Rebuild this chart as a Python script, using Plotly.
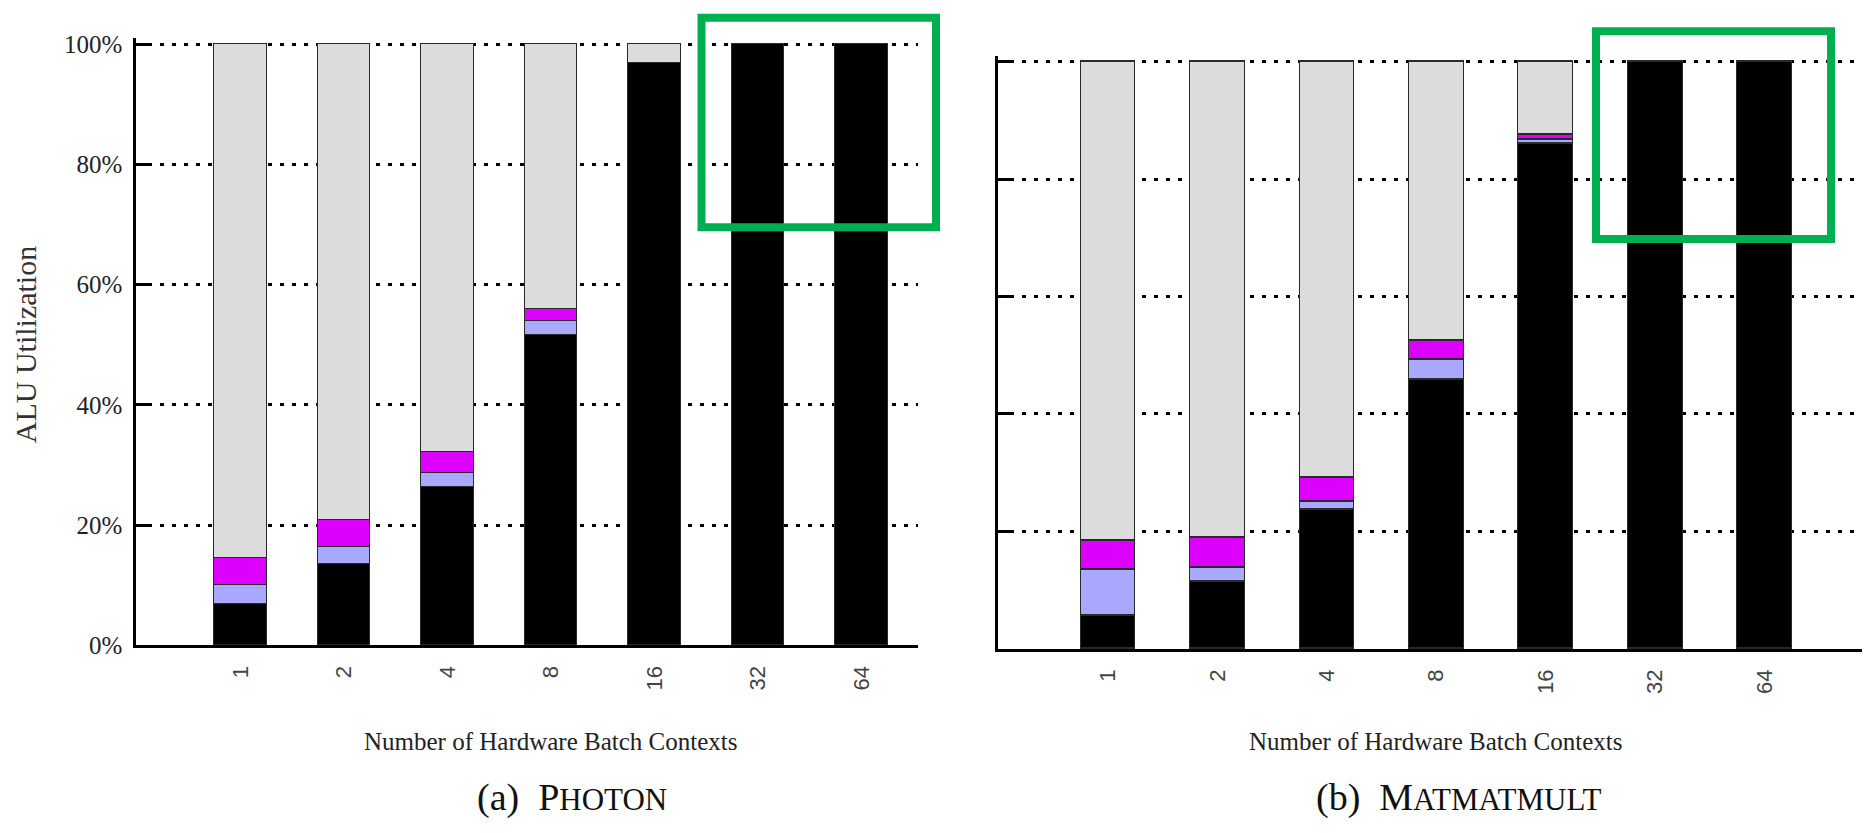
import plotly.graph_objects as go

# ---------------- data ----------------
categories = ["1", "2", "4", "8", "16", "32", "64"]

photon_black   = [6.9, 13.5, 26.4, 51.7, 96.8, 100, 100]
photon_blue    = [3.2, 2.8, 2.3, 2.3, 0, 0, 0]
photon_magenta = [4.5, 4.5, 3.5, 2.0, 0, 0, 0]
photon_gray    = [85.4, 79.2, 67.8, 44.0, 3.2, 0, 0]

matmat_black   = [5.7, 11.5, 23.7, 45.9, 86.0, 100, 100]
matmat_blue    = [7.8, 2.4, 1.3, 3.3, 0.7, 0, 0]
matmat_magenta = [4.9, 5.1, 4.2, 3.2, 0.8, 0, 0]
matmat_gray    = [81.6, 81.0, 70.8, 47.6, 12.5, 0, 0]

ytick_vals = [0, 20, 40, 60, 80, 100]
ytick_text = ["0%", "20%", "40%", "60%", "80%", "100%"]

y_title = "ALU Utilization"
x_title = "Number of Hardware Batch Contexts"

# ---------------- style ----------------
W, H = 1869, 833
def px(x):
    return x / W
def py(y):
    return 1 - y / H

colors = ["#000000", "#a8a8ff", "#dd00ff", "#dcdcdc"]
outline = dict(color="#2a2a2a", width=1.5)

fig = go.Figure()

panels = [
    ("x", "y", [photon_black, photon_blue, photon_magenta, photon_gray], 0.51),
    ("x2", "y2", [matmat_black, matmat_blue, matmat_magenta, matmat_gray], 0.50),
]
for xa, ya, series, bw in panels:
    for vals, c in zip(series, colors):
        fig.add_trace(go.Bar(
            x=categories, y=vals, xaxis=xa, yaxis=ya,
            marker=dict(color=c, line=outline), width=bw,
            showlegend=False, hoverinfo="skip",
        ))

serif = "Liberation Serif"
sans = "Liberation Sans"

common_y = dict(
    range=[0, 101], tickvals=ytick_vals, ticktext=ytick_text,
    showgrid=True, gridcolor="#000000", gridwidth=2.5, griddash="4px,8px",
    zeroline=False, showline=True, linecolor="#000000", linewidth=2.5,
    ticks="inside", ticklen=15, tickwidth=2.5, tickcolor="#000000",
    tickfont=dict(family=serif, size=25, color="#222222"),
    fixedrange=True,
)
common_x = dict(
    type="category", showgrid=False, zeroline=False, showline=True,
    linecolor="#000000", linewidth=2.5, ticks="", tickangle=-90,
    tickfont=dict(family=sans, size=22, color="#444444"),
    ticklabelstandoff=9, fixedrange=True,
)

# left panel: 0% at y=655, 100% at y=38 ; right: 0% at 658.5, 100% at 56
l_unit = (655 - 38) / 100
r_unit = (658.5 - 56) / 100

fig.update_layout(
    width=W, height=H, autosize=False,
    margin=dict(l=0, r=0, t=0, b=0),
    paper_bgcolor="white", plot_bgcolor="white",
    barmode="stack", bargap=0,
    xaxis=dict(common_x, domain=[px(136), px(918)], range=[-1.01, 6.545], anchor="y"),
    yaxis=dict(common_y, domain=[py(655), py(655 - 101 * l_unit)], anchor="x",
               ticklabelstandoff=6),
    xaxis2=dict(common_x, domain=[px(998), px(1862)], range=[-1.005, 6.89], anchor="y2"),
    yaxis2=dict(common_y, domain=[py(658.5), py(658.5 - 101 * r_unit)], anchor="x2",
                showticklabels=False),
)

annotations = [
    dict(text=y_title, xref="paper", yref="paper", x=px(25), y=py(347),
         textangle=-90, showarrow=False, xanchor="center", yanchor="middle",
         font=dict(family=serif, size=30, color="#333333")),
    dict(text=x_title, xref="x", yref="paper", x=3, y=py(754),
         showarrow=False, xanchor="center", yanchor="middle",
         font=dict(family=serif, size=25, color="#222222")),
    dict(text=x_title, xref="x2", yref="paper", x=3, y=py(754),
         showarrow=False, xanchor="center", yanchor="middle",
         font=dict(family=serif, size=25, color="#222222")),
    dict(text="(a)&nbsp;&nbsp;P<span style='font-size:31px'>HOTON</span>",
         xref="paper", yref="paper", x=px(572), y=py(811),
         showarrow=False, xanchor="center", yanchor="middle",
         font=dict(family=serif, size=38, color="#111111")),
    dict(text="(b)&nbsp;&nbsp;M<span style='font-size:31px'>ATMATMULT</span>",
         xref="paper", yref="paper", x=px(1458), y=py(811),
         showarrow=False, xanchor="center", yanchor="middle",
         font=dict(family=serif, size=38, color="#111111")),
]
fig.update_layout(annotations=annotations)

green = "#00b050"
shapes = [
    dict(type="rect", xref="paper", yref="paper",
         x0=px(701.5), x1=px(936), y0=py(226), y1=py(11),
         line=dict(color=green, width=8), fillcolor="rgba(0,0,0,0)", layer="above"),
    dict(type="rect", xref="paper", yref="paper",
         x0=px(1596), x1=px(1831), y0=py(238), y1=py(25),
         line=dict(color=green, width=8), fillcolor="rgba(0,0,0,0)", layer="above"),
]
fig.update_layout(shapes=shapes)

pin_script = (
    "document.documentElement.style.margin='0';"
    "document.documentElement.style.padding='0';"
    "document.documentElement.style.overflow='hidden';"
    "document.body.style.margin='0';"
    "document.body.style.padding='0';"
    "document.body.style.overflow='hidden';"
    "var d=document.getElementsByClassName('plotly-graph-div')[0];"
    "d.style.position='fixed';d.style.left='0px';d.style.top='0px';"
)

fig.write_html(
    "out.html",
    config={"displayModeBar": False},
    post_script=pin_script,
)
